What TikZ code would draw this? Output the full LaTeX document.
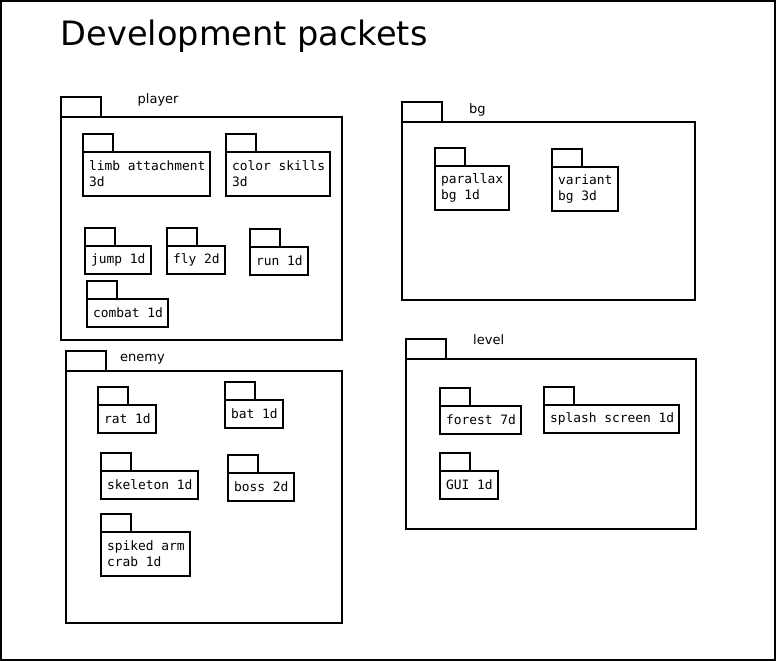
\documentclass[tikz,border=0pt]{standalone}
\usepackage{fontspec}
\setmainfont{DejaVu Sans}
\setmonofont{DejaVu Sans Mono}
\usepackage{tikz}
\usetikzlibrary{positioning}
\tikzstyle{group} = [rectangle,
					 draw=black,
					 line width=2pt,
					 anchor=north west,
					 inner sep=0pt,
					 outer sep=0pt,
					]
\tikzstyle{grouptab} = [rectangle,
					    draw=black,
					    line width=2pt,
					    minimum width=40pt,
					    minimum height=20pt,
					    inner sep=0pt,
					    outer sep=0pt,
					   ]
\tikzstyle{grouplabel} = [anchor=base west,
					      inner sep=0pt,
					      font=\fontsize{13}{15}\selectfont,
					     ]
\tikzstyle{packet} = [rectangle,
					  draw=black,
					  line width=2pt,
					  anchor=north west,
					  align=left,
					  inner sep=0pt,
					  outer sep=0pt,
					  font=\ttfamily\fontsize{12.9}{16}\selectfont,
					  execute at begin node={\leftskip=6pt\spaceskip=7.77pt\relax},
					 ]
\tikzstyle{packettab} = [rectangle,
					     draw=black,
					     line width=2pt,
					     minimum width=30pt,
					     minimum height=18pt,
					     inner sep=0pt,
					     outer sep=0pt,
					    ]

\begin{document}
\begin{tikzpicture}[x=1pt,y=-1pt]

\useasboundingbox (0,0) rectangle (776,661);
\draw [line width=2pt] (1,1) rectangle (775,659.5);

\node (title) [anchor=base west, inner sep=0pt, font=\fontsize{33.6}{40}\selectfont] at (60.5,46) {Development packets};

% player
\node (player) [group, minimum width=281pt, minimum height=223pt] at (61,117) {};
\node (player_tab) [grouptab, above right=0pt and 0pt of player.north west] {};
\node (player_label) [grouplabel] at (137.5,103) {player};

\node (limb) [packet, text width=127pt, minimum height=44pt] at (83,152) {limb attachment\\3d};
\node (limb_tab) [packettab, above right=0pt and 0pt of limb.north west] {};
\node (color) [packet, text width=104pt, minimum height=44pt] at (226,152) {color skills\\3d};
\node (color_tab) [packettab, above right=0pt and 0pt of color.north west] {};
\node (jump) [packet, text width=66pt, minimum height=28pt] at (85,246) {jump 1d};
\node (jump_tab) [packettab, above right=0pt and 0pt of jump.north west] {};
\node (fly) [packet, text width=58pt, minimum height=28pt] at (167,246) {fly 2d};
\node (fly_tab) [packettab, above right=0pt and 0pt of fly.north west] {};
\node (run) [packet, text width=58pt, minimum height=28pt] at (250,247) {run 1d};
\node (run_tab) [packettab, above right=0pt and 0pt of run.north west] {};
\node (combat) [packet, text width=81pt, minimum height=28pt] at (87,299) {combat 1d};
\node (combat_tab) [packettab, above right=0pt and 0pt of combat.north west] {};

% bg
\node (bg) [group, minimum width=293pt, minimum height=178pt] at (402,122) {};
\node (bg_tab) [grouptab, above right=0pt and 0pt of bg.north west] {};
\node (bg_label) [grouplabel] at (469,113) {bg};

\node (parallax) [packet, text width=74pt, minimum height=44pt] at (435,166) {parallax\\bg 1d};
\node (parallax_tab) [packettab, above right=0pt and 0pt of parallax.north west] {};
\node (variant) [packet, text width=66pt, minimum height=44pt] at (552,167) {variant\\bg 3d};
\node (variant_tab) [packettab, above right=0pt and 0pt of variant.north west] {};

% enemy
\node (enemy) [group, minimum width=276pt, minimum height=252pt] at (66,371) {};
\node (enemy_tab) [grouptab, above right=0pt and 0pt of enemy.north west] {};
\node (enemy_label) [grouplabel] at (120,361) {enemy};

\node (rat) [packet, text width=58pt, minimum height=28pt] at (98,405) {rat 1d};
\node (rat_tab) [packettab, above right=0pt and 0pt of rat.north west] {};
\node (bat) [packet, text width=58pt, minimum height=28pt] at (225,400) {bat 1d};
\node (bat_tab) [packettab, above right=0pt and 0pt of bat.north west] {};
\node (skeleton) [packet, text width=97pt, minimum height=28pt] at (101,471) {skeleton 1d};
\node (skeleton_tab) [packettab, above right=0pt and 0pt of skeleton.north west] {};
\node (boss) [packet, text width=66pt, minimum height=28pt] at (228,473) {boss 2d};
\node (boss_tab) [packettab, above right=0pt and 0pt of boss.north west] {};
\node (crab) [packet, text width=89pt, minimum height=44pt] at (101,532) {spiked arm\\crab 1d};
\node (crab_tab) [packettab, above right=0pt and 0pt of crab.north west] {};

% level
\node (level) [group, minimum width=290pt, minimum height=170pt] at (406,359) {};
\node (level_tab) [grouptab, above right=0pt and 0pt of level.north west] {};
\node (level_label) [grouplabel] at (473,344) {level};

\node (forest) [packet, text width=81pt, minimum height=28pt] at (440,406) {forest 7d};
\node (forest_tab) [packettab, above right=0pt and 0pt of forest.north west] {};
\node (splash) [packet, text width=135pt, minimum height=28pt] at (544,405) {splash screen 1d};
\node (splash_tab) [packettab, above right=0pt and 0pt of splash.north west] {};
\node (gui) [packet, text width=58pt, minimum height=28pt] at (440,471) {GUI 1d};
\node (gui_tab) [packettab, above right=0pt and 0pt of gui.north west] {};

\end{tikzpicture}
\end{document}
